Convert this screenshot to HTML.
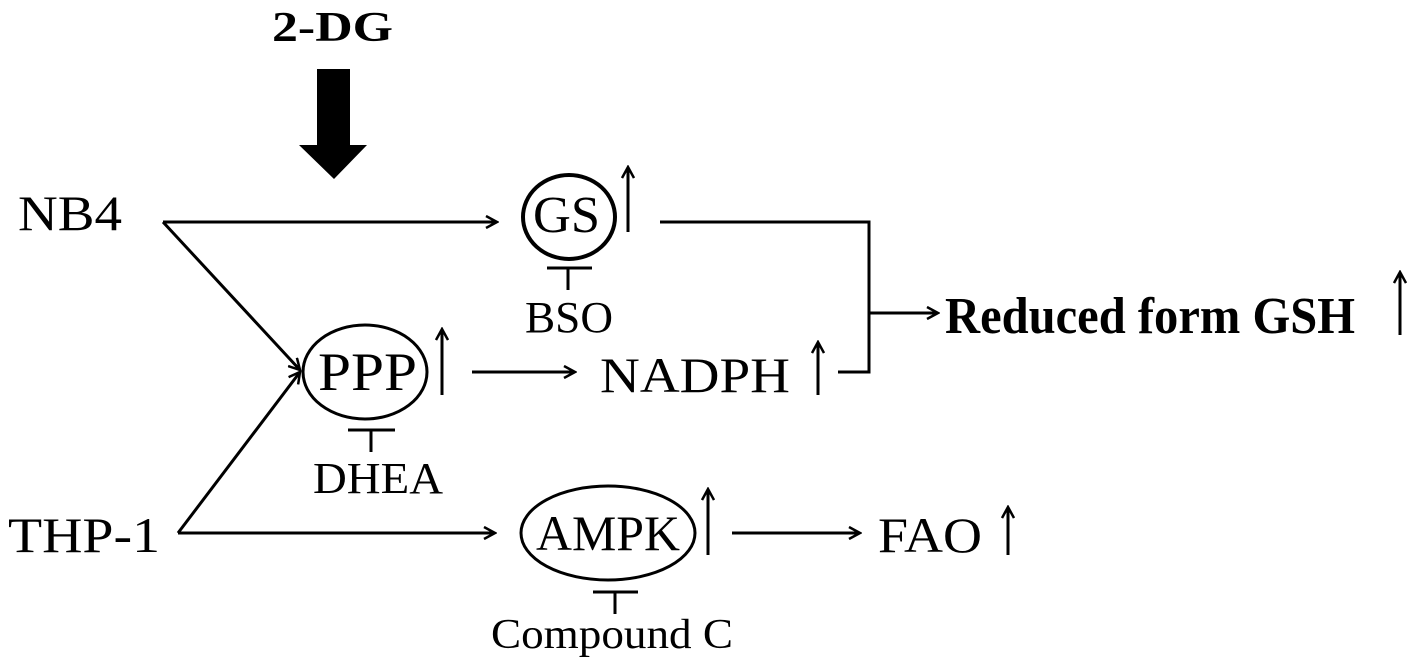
<!DOCTYPE html>
<html><head><meta charset="utf-8"><style>
html,body{margin:0;padding:0;background:#fff;}
svg{display:block;}
text{font-family:"Liberation Serif","Noto Serif CJK SC",serif;fill:#000;}
</style></head><body>
<svg width="1417" height="669" viewBox="0 0 1417 669" xmlns="http://www.w3.org/2000/svg">
<defs>
<marker id="a" markerWidth="14" markerHeight="14" refX="12" refY="7" orient="auto" markerUnits="userSpaceOnUse">
<path d="M1,1 L12,7 L1,13" fill="none" stroke="#000" stroke-width="2.5"/>
</marker>
</defs>
<g stroke="#000" stroke-width="3" fill="none">
<line x1="163" y1="222" x2="497" y2="222" marker-end="url(#a)"/>
<line x1="163" y1="222" x2="300" y2="370" marker-end="url(#a)"/>
<line x1="178" y1="533" x2="495" y2="533" marker-end="url(#a)"/>
<line x1="178" y1="533" x2="300" y2="372" marker-end="url(#a)"/>
<ellipse cx="569" cy="217" rx="46" ry="42" stroke-width="4"/>
<ellipse cx="365" cy="372" rx="62" ry="47"/>
<ellipse cx="608" cy="533" rx="87" ry="47"/>
<line x1="628" y1="232" x2="628" y2="167" marker-end="url(#a)"/>
<line x1="442" y1="395" x2="442" y2="329" marker-end="url(#a)"/>
<line x1="818" y1="395" x2="818" y2="342" marker-end="url(#a)"/>
<line x1="1400" y1="335" x2="1400" y2="272" marker-end="url(#a)"/>
<line x1="708" y1="555" x2="708" y2="489" marker-end="url(#a)"/>
<line x1="1008" y1="555" x2="1008" y2="507" marker-end="url(#a)"/>
<line x1="472" y1="372" x2="575" y2="372" marker-end="url(#a)"/>
<line x1="732" y1="533" x2="860" y2="533" marker-end="url(#a)"/>
<polyline points="660,222 869,222 869,372 838,372"/>
<line x1="869" y1="313" x2="938" y2="313" marker-end="url(#a)"/>
<line x1="547" y1="268" x2="592" y2="268"/><line x1="568" y1="268" x2="568" y2="290"/>
<line x1="348" y1="430" x2="395" y2="430"/><line x1="371" y1="430" x2="371" y2="452"/>
<line x1="593" y1="592" x2="638" y2="592"/><line x1="615" y1="592" x2="615" y2="614"/>
</g>
<polygon points="317,69 350,69 350,145 367,145 334,179 299,145 317,145" fill="#000"/>
<text x="272" y="41" font-size="42" textLength="121" lengthAdjust="spacingAndGlyphs" font-weight="bold">2-DG</text>
<text x="18" y="230" font-size="50" textLength="104" lengthAdjust="spacingAndGlyphs">NB4</text>
<text x="8" y="552" font-size="50" textLength="152" lengthAdjust="spacingAndGlyphs">THP-1</text>
<text x="533" y="232" font-size="52" textLength="67" lengthAdjust="spacingAndGlyphs">GS</text>
<text x="318" y="390" font-size="54" textLength="99" lengthAdjust="spacingAndGlyphs">PPP</text>
<text x="536" y="550" font-size="50" textLength="144" lengthAdjust="spacingAndGlyphs">AMPK</text>
<text x="525" y="332" font-size="44" textLength="88" lengthAdjust="spacingAndGlyphs">BSO</text>
<text x="313" y="493" font-size="44" textLength="130" lengthAdjust="spacingAndGlyphs">DHEA</text>
<text x="491" y="648" font-size="42" textLength="242" lengthAdjust="spacingAndGlyphs">Compound C</text>
<text x="600" y="392" font-size="50" textLength="190" lengthAdjust="spacingAndGlyphs">NADPH</text>
<text x="945" y="333" font-size="52" font-weight="bold" textLength="410" lengthAdjust="spacingAndGlyphs">Reduced form GSH</text>
<text x="878" y="552" font-size="50" textLength="104" lengthAdjust="spacingAndGlyphs">FAO</text>
</svg>
</body></html>
